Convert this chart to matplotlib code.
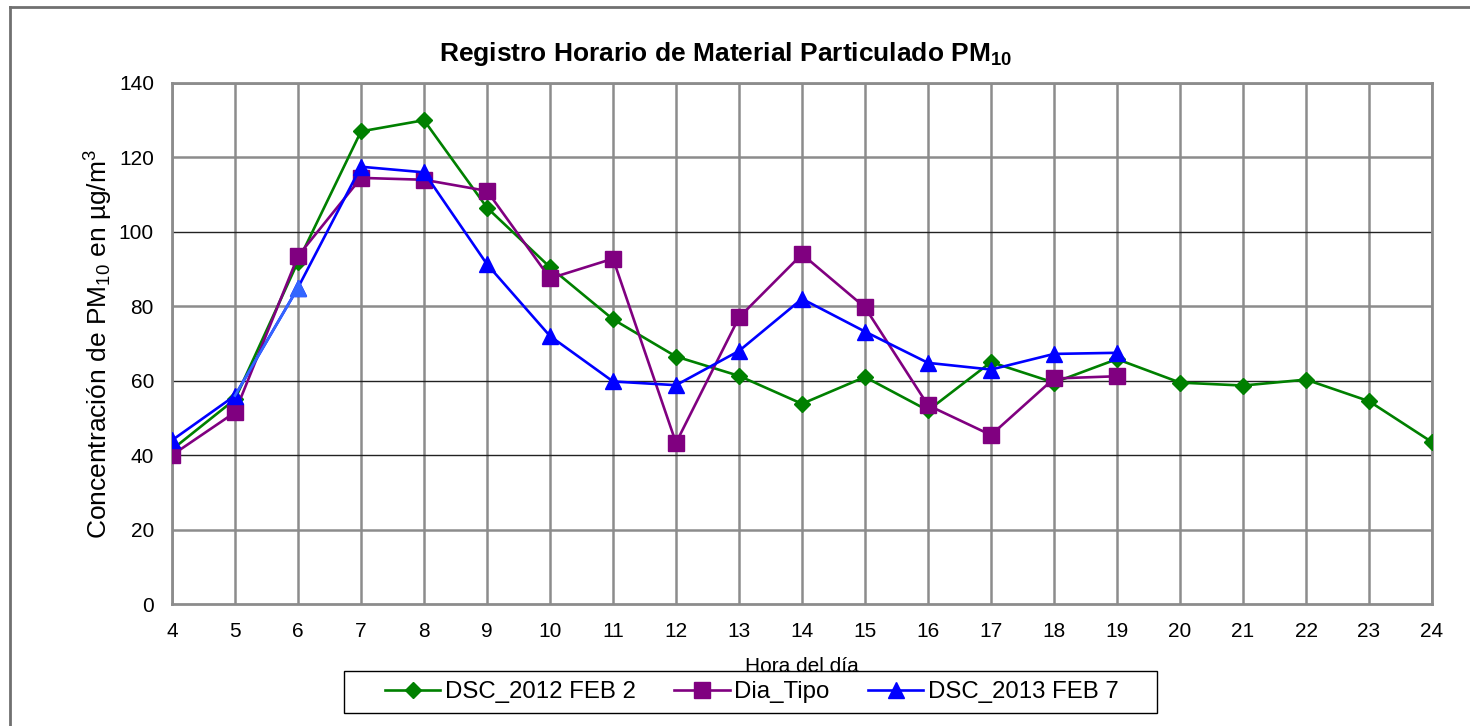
import matplotlib
matplotlib.use("Agg")
import matplotlib.pyplot as plt
from matplotlib.lines import Line2D
from matplotlib.patches import Rectangle

plt.rcParams['font.family'] = ['Liberation Sans', 'DejaVu Sans']
plt.rcParams['mathtext.default'] = 'regular'

# datos
horas = list(range(4, 25))
dsc_2012 = [41.5, 55, 92, 127, 130, 106.5, 90.5, 76.5, 66.5, 61.3, 53.8, 61,
            52, 65, 59.5, 65.8, 59.5, 58.7, 60.3, 54.5, 43.5]
horas_tipo = list(range(4, 20))
dia_tipo = [40, 51.5, 93.5, 114.5, 114, 111, 87.5, 92.8, 43.3, 77, 94, 79.7,
            53.4, 45.4, 60.6, 61.2]
dsc_2013 = [44, 56, 85, 117.5, 116, 91.3, 72, 59.8, 58.8, 68, 82, 73.2,
            64.8, 63, 67.2, 67.5]

fig = plt.figure(figsize=(14.7, 7.26), dpi=100)
ax = fig.add_axes([172/1470, 1-604/726, (1432-172)/1470, (604-83)/726])

verde = '#008000'
morado = '#800080'
azul = '#0000FF'

ax.plot(horas, dsc_2012, color=verde, lw=1.9, marker='D', ms=8.5, zorder=3,
        label='DSC_2012 FEB 2')
ax.plot(horas_tipo, dia_tipo, color=morado, lw=1.9, marker='s', ms=11, zorder=4,
        label='Dia_Tipo')
ax.plot(horas_tipo, dsc_2013, color=azul, lw=1.9, marker='^', ms=11.5, zorder=5,
        label='DSC_2013 FEB 7')
# punto con formato distinto (hora 6)
ax.plot(horas_tipo[1:3], dsc_2013[1:3], color='#3366FF', lw=1.9, zorder=5)
ax.plot(horas_tipo[2], dsc_2013[2], color='#3366FF', marker='^', ms=11.5, zorder=6)

ax.set_xlim(4, 24)
ax.set_ylim(0, 140)
ax.set_xticks(horas)
ax.set_yticks(range(0, 141, 20))
ax.tick_params(length=0, labelsize=15, pad=13)

for x in horas:
    ax.axvline(x, color='#8c8c8c', lw=1.8, zorder=1)
for y in range(20, 141, 20):
    if y in (40, 60, 100):
        ax.axhline(y, color='#222222', lw=1.0, zorder=1)
    else:
        ax.axhline(y, color='#8c8c8c', lw=1.8, zorder=1)
for s in ax.spines.values():
    s.set_color('#8c8c8c')
    s.set_linewidth(2)

ax.set_ylabel('Concentración de PM$_{10}$ en µg/m$^3$', fontsize=19, labelpad=3)
fig.text(802/1470, 1-666/726, 'Hora del día', ha='center', va='center',
         fontsize=15)
fig.text(726/1470, 1-54/726, 'Registro Horario de Material Particulado PM$_{10}$',
         ha='center', va='center', fontsize=19, fontweight='bold')

# caja de la leyenda
fig.add_artist(Rectangle((344/1470, 1-713/726), (1157-344)/1470, 42/726,
                         transform=fig.transFigure, facecolor='white',
                         edgecolor='black', lw=1.0, zorder=4))
leg = fig.legend(loc='center', bbox_to_anchor=(752/1470, 1-692/726), ncol=3,
                 frameon=False, prop={'size': 17.3},
                 handlelength=2.3, columnspacing=1.6, borderpad=0.2, handletextpad=0.2)
leg.set_zorder(5)

# borde del area del grafico
fig.add_artist(Line2D([10/1470, 1], [1-7/726, 1-7/726], color='#707070', lw=2))
fig.add_artist(Line2D([10/1470, 10/1470], [0, 1-7/726], color='#707070', lw=2))

fig.savefig('out.png', dpi=100)
